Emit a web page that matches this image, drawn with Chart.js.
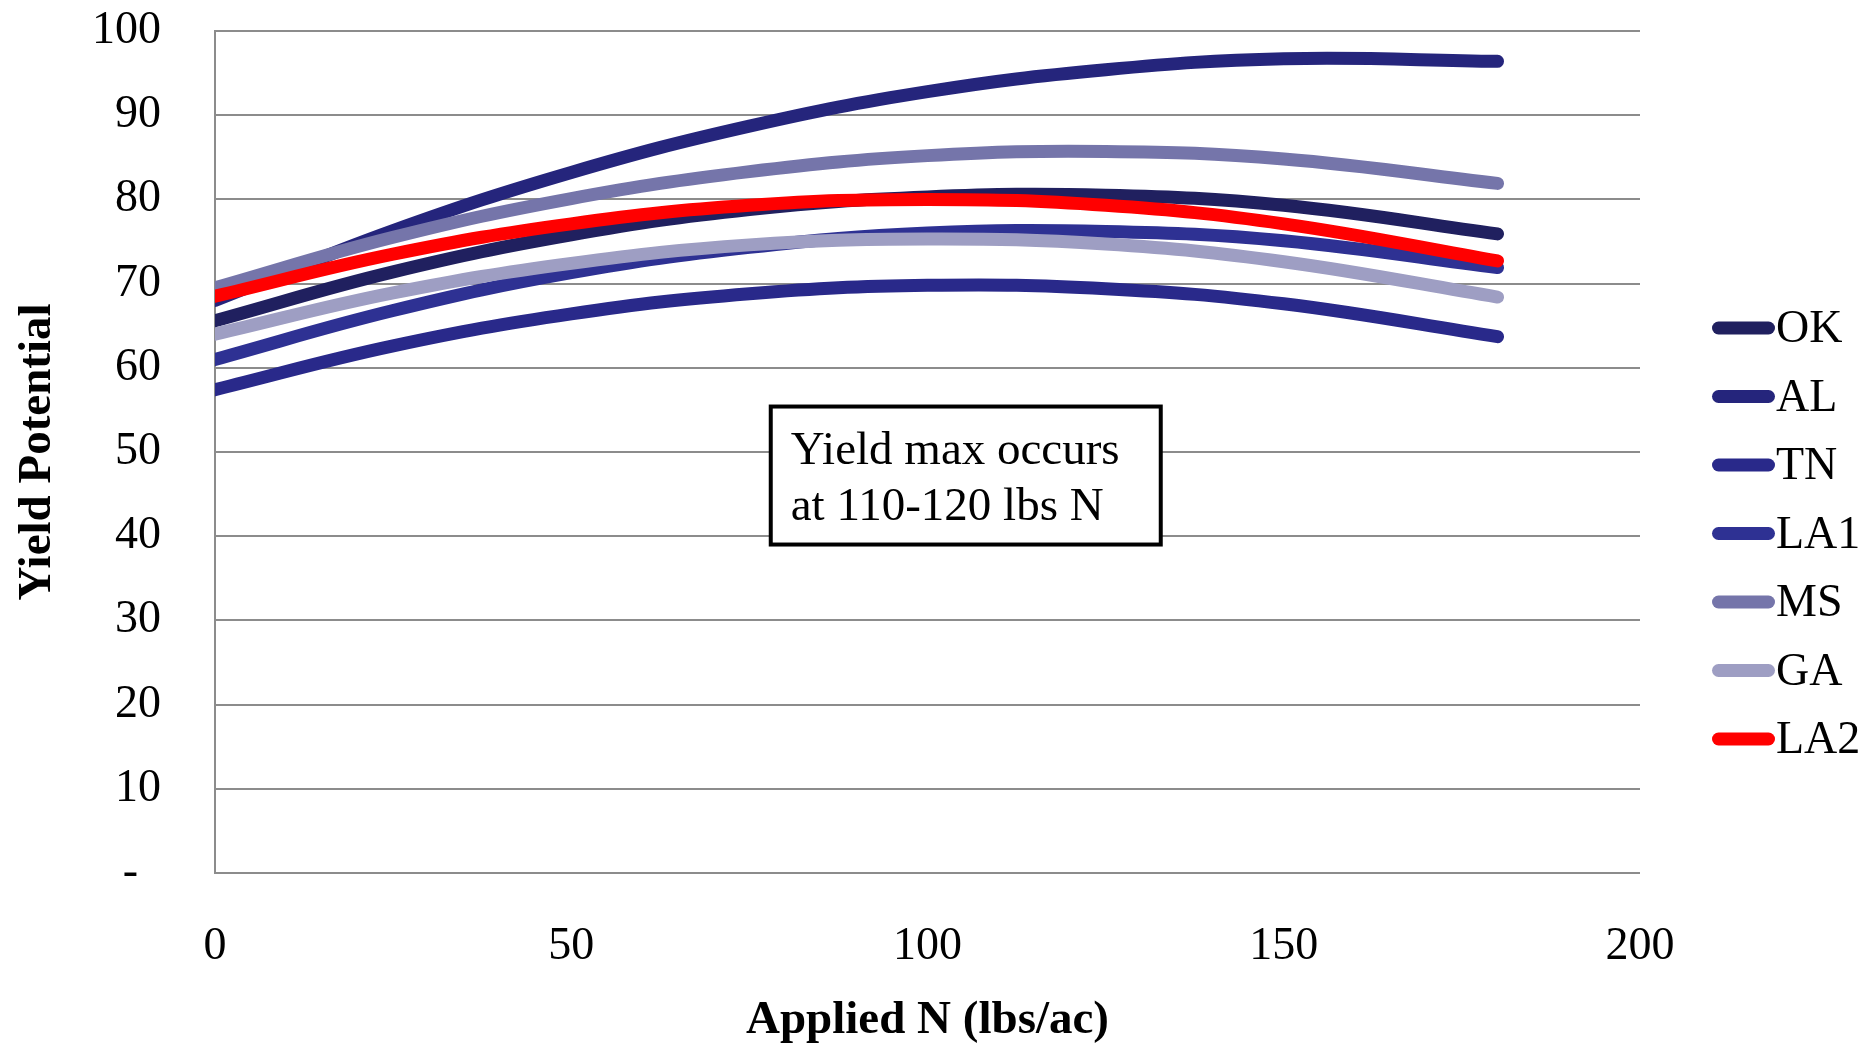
<!DOCTYPE html>
<html>
<head>
<meta charset="utf-8">
<title>Yield Potential vs Applied N</title>
<script src="https://cdn.jsdelivr.net/npm/chart.js"></script>
<style>
  body { margin: 0; background: #fff; }
  #wrap { width: 1866px; height: 1044px; }
</style>
</head>
<body>
<div id="wrap"><canvas id="yieldChart" width="1866" height="1044"></canvas></div>
<script>
// Applied N rates (lbs/ac) and yield potential per state
const nitrogenRates = [0, 25, 50, 75, 100, 125, 150, 180];

const okYield  = [65.6, 71.4, 75.8, 78.8, 80.3, 80.5, 79.3, 75.9];
const alYield  = [68.0, 76.3, 83.2, 88.7, 92.8, 95.4, 96.7, 96.4];
const tnYield  = [57.4, 62.6, 66.4, 68.8, 69.8, 69.4, 67.6, 63.7];
const la1Yield = [61.0, 66.8, 71.3, 74.3, 76.0, 76.2, 75.1, 71.9];
const msYield  = [69.5, 75.5, 80.1, 83.3, 85.2, 85.7, 84.8, 81.9];
const gaYield  = [64.0, 68.9, 72.4, 74.6, 75.3, 74.7, 72.6, 68.4];
const la2Yield = [68.5, 73.5, 77.1, 79.3, 80.0, 79.3, 77.1, 72.7];

const stateNames = ['OK', 'AL', 'TN', 'LA1', 'MS', 'GA', 'LA2'];
const stateSeries = [okYield, alYield, tnYield, la1Yield, msYield, gaYield, la2Yield];
const stateColors = ['#20205f', '#25257c', '#29298a', '#2e3193', '#7575aa', '#9e9ec3', '#ff0000'];

const xTicks = [0, 50, 100, 150, 200];
const yTicks = [0, 10, 20, 30, 40, 50, 60, 70, 80, 90, 100];

const noteLines = ['Yield max occurs', 'at 110-120 lbs N'];

const serif = "'Liberation Serif', 'Times New Roman', serif";
const gridGray = '#8c8c8c';

Chart.defaults.font.family = serif;
Chart.defaults.color = '#000';

// later series sit on top, legend keeps the original order
const datasets = stateNames.map(function(name, i) {
    return {
        label: name,
        data: nitrogenRates.map(function(n, j) { return { x: n, y: stateSeries[i][j] }; }),
        borderColor: stateColors[i],
        backgroundColor: stateColors[i],
        borderWidth: 13,
        borderCapStyle: 'round',
        borderJoinStyle: 'round',
        pointRadius: 0,
        tension: 0.4,
        clip: 0,
        order: stateNames.length - i
    };
});

// text box in the middle of the plot
const notePlugin = {
    id: 'noteBox',
    afterDatasetsDraw: function(chart) {
        const ctx = chart.ctx;
        const left = chart.scales.x.getPixelForValue(78);
        const top = chart.scales.y.getPixelForValue(55.4);
        const w = 390, h = 138;
        ctx.save();
        ctx.fillStyle = '#fff';
        ctx.fillRect(left, top, w, h);
        ctx.strokeStyle = '#000';
        ctx.lineWidth = 4;
        ctx.strokeRect(left, top, w, h);
        ctx.fillStyle = '#000';
        ctx.font = '47px ' + serif;
        ctx.textBaseline = 'alphabetic';
        ctx.textAlign = 'left';
        noteLines.forEach(function(line, i) {
            ctx.fillText(line, left + 20, top + 57 + i * 56);
        });
        ctx.restore();
    }
};

// legend on the right: thick line sample followed by the state name
const legendPlugin = {
    id: 'sideLegend',
    afterDraw: function(chart) {
        const ctx = chart.ctx;
        const area = chart.chartArea;
        const x0 = area.right + 72;
        ctx.save();
        ctx.font = '46px ' + serif;
        ctx.textBaseline = 'middle';
        ctx.textAlign = 'left';
        chart.data.datasets.forEach(function(ds, i) {
            const y = area.top + 297 + i * 68.5;
            ctx.strokeStyle = ds.borderColor;
            ctx.lineWidth = 13;
            ctx.lineCap = 'round';
            ctx.beginPath();
            ctx.moveTo(x0 + 6.5, y);
            ctx.lineTo(x0 + 56.5, y);
            ctx.stroke();
            ctx.fillStyle = '#000';
            ctx.fillText(ds.label, x0 + 64, y + 2);
        });
        ctx.restore();
    }
};

new Chart(document.getElementById('yieldChart').getContext('2d'), {
    type: 'line',
    data: { datasets: datasets },
    plugins: [notePlugin, legendPlugin],
    options: {
        responsive: false,
        animation: false,
        layout: { padding: { top: 31, right: 226, left: 0, bottom: 0 } },
        plugins: {
            legend: { display: false },
            tooltip: { enabled: false }
        },
        scales: {
            x: {
                type: 'linear',
                min: 0,
                max: 200,
                afterBuildTicks: function(scale) {
                    scale.ticks = xTicks.map(function(v) { return { value: v }; });
                },
                afterFit: function(scale) {
                    scale.height = 171;
                    scale.paddingLeft = 0;
                    scale.paddingRight = 0;
                },
                grid: { display: false },
                border: { display: false },
                ticks: { font: { size: 46 }, padding: 38, maxRotation: 0 },
                title: {
                    display: true,
                    text: 'Applied N (lbs/ac)',
                    font: { size: 47, weight: 'bold', lineHeight: 1.0 },
                    padding: { top: 0, bottom: 0 }
                }
            },
            y: {
                min: 0,
                max: 100,
                afterBuildTicks: function(scale) {
                    scale.ticks = yTicks.map(function(v) { return { value: v }; });
                },
                afterFit: function(scale) {
                    scale.width = 215;
                    scale.paddingTop = 0;
                    scale.paddingBottom = 0;
                },
                grid: { color: gridGray, lineWidth: 2, drawTicks: false },
                border: { display: true, color: gridGray, width: 2 },
                ticks: {
                    font: { size: 46 },
                    padding: 54,
                    callback: function(v) { return v === 0 ? '-  ' : String(v); }
                },
                title: {
                    display: true,
                    text: 'Yield Potential',
                    font: { size: 47, weight: 'bold' },
                    padding: { top: 10, bottom: 0 }
                }
            }
        }
    }
});
</script>
</body>
</html>
